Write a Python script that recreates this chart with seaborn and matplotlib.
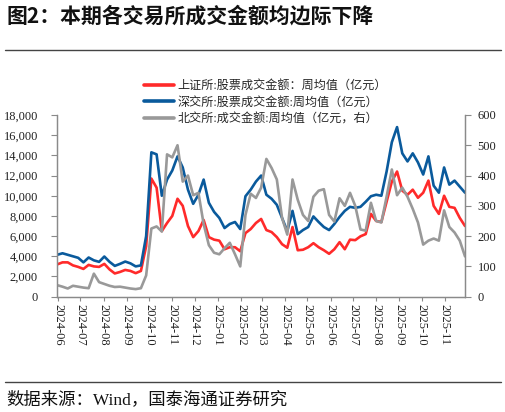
import pandas as pd
import numpy as np
import matplotlib
matplotlib.use("Agg")
import matplotlib.pyplot as plt
import matplotlib.dates as mdates
import seaborn as sns
from matplotlib.lines import Line2D
from matplotlib.ticker import MultipleLocator, FuncFormatter

# 周度数据（周五），2024-05-31 至 2025-11-28
dates = pd.date_range("2024-05-31", "2025-11-28", freq="7D")

# 上证所：股票成交金额 周均值（亿元）
sh_amount = [3200, 3400, 3400, 3100, 2950, 2750, 3150, 3000, 2950, 3250,
             2700, 2300, 2450, 2650, 2550, 2330, 2550, 5000, 11700, 10800,
             6500, 7300, 8000, 9700, 9000, 7000, 5900, 6500, 7600, 5900,
             5650, 5550, 4700, 4900, 4900, 4500, 6300, 6700, 7300, 7700,
             6600, 6400, 5900, 5200, 4850, 6900, 4600, 4650, 4900, 5300,
             4900, 4600, 4250, 4700, 5400, 4700, 5650, 5600, 5980, 6200,
             8200, 7500, 7400, 9400, 11400, 12400, 10500, 10100, 10600, 9800,
             10300, 11500, 9000, 8200, 10000, 8900, 8800, 7800, 7000]

# 深交所：股票成交金额 周均值（亿元）
sz_amount = [4150, 4300, 4150, 4000, 3850, 3400, 3880, 3600, 3450, 3980,
             3450, 3050, 3250, 3480, 3300, 3000, 3100, 6000, 14300, 14100,
             10000, 11600, 12500, 13900, 12800, 10600, 9200, 10100, 11600, 9300,
             8400, 7800, 6800, 7200, 7400, 6700, 9950, 10600, 11400, 12000,
             10100, 9700, 9100, 7800, 6500, 8500, 6200, 6600, 6900, 7950,
             7400, 6900, 6600, 7200, 7900, 8500, 8900, 8800, 8900, 9400,
             9950, 10100, 10000, 12400, 15300, 16800, 14200, 13400, 14200, 13300,
             12100, 13900, 11000, 10300, 12800, 11100, 11500, 10900, 10300]

# 北交所：成交金额 周均值（亿元，右轴）
bj_amount = [38, 33, 27, 36, 33, 30, 28, 76, 48, 42,
             36, 32, 33, 30, 27, 25, 28, 70, 225, 232,
             215, 470, 460, 500, 380, 400, 335, 343, 240, 170,
             145, 140, 160, 178, 140, 100, 270, 340, 326, 360,
             455, 425, 387, 260, 205, 387, 320, 270, 250, 330,
             350, 355, 270, 248, 325, 300, 343, 300, 222, 218,
             310, 250, 245, 330, 420, 335, 360, 330, 290, 245,
             172, 185, 192, 185, 285, 230, 212, 185, 133]

labels = ["上证所:股票成交金额：周均值（亿元）",
          "深交所:股票成交金额:周均值（亿元）",
          "北交所:成交金额:周均值（亿元，右）"]
colors = ["#FF2A2A", "#0A5A9C", "#999999"]

df = pd.DataFrame({"date": dates, "sh": sh_amount, "sz": sz_amount, "bj": bj_amount})

sns.set_theme(style="white")
plt.rcParams["font.family"] = ["Liberation Serif", "Noto Sans CJK SC", "DejaVu Sans"]
plt.rcParams["axes.unicode_minus"] = False

fig = plt.figure(figsize=(5.06, 4.12), dpi=100)
ax = fig.add_axes([0.1132, 0.2799, 0.8058, 0.441])
ax2 = ax.twinx()

sns.lineplot(data=df, x="date", y="sh", ax=ax, color=colors[0], lw=1.9, label=labels[0], legend=False)
sns.lineplot(data=df, x="date", y="sz", ax=ax, color=colors[1], lw=1.9, label=labels[1], legend=False)
sns.lineplot(data=df, x="date", y="bj", ax=ax2, color=colors[2], lw=1.9, label=labels[2], legend=False)

ax.set_xlim(dates[0], dates[-1])
ax.set_ylim(0, 18000)
ax2.set_ylim(0, 600)
ax.yaxis.set_major_locator(MultipleLocator(2000))
ax2.yaxis.set_major_locator(MultipleLocator(100))
ax.yaxis.set_major_formatter(FuncFormatter(lambda v, p: f"{int(v):,}"))
ax.xaxis.set_major_locator(mdates.MonthLocator())
ax.xaxis.set_major_formatter(mdates.DateFormatter("%Y-%m"))

ax.set_xlabel("")
ax.set_ylabel("")
ax2.set_ylabel("")

axis_color = "#8a8a8a"
for a in (ax, ax2):
    a.grid(False)
    a.spines["top"].set_visible(False)
    for s in ("left", "right", "bottom"):
        a.spines[s].set_color(axis_color)
        a.spines[s].set_linewidth(0.9)
ax.tick_params(axis="y", which="major", direction="out", length=4, width=0.8,
               color=axis_color, labelsize=9, labelcolor="#222222", pad=10, left=True)
ax.tick_params(axis="x", which="major", direction="out", length=3, width=0.8,
               color=axis_color, labelsize=9, labelcolor="#222222", pad=2, bottom=True)
ax2.tick_params(axis="y", which="major", direction="out", length=4, width=0.8,
                color=axis_color, labelsize=9, labelcolor="#222222", pad=5, right=True)
for t in ax.get_xticklabels():
    t.set_rotation(270)

# 图例
handles = [Line2D([0], [0], color=c, lw=2.6) for c in colors]
fig.legend(handles, labels, loc="upper left", bbox_to_anchor=(0.284, 0.806),
           frameon=False, fontsize=8.7, handlelength=2.5, handletextpad=0.3,
           labelspacing=0.38, borderpad=0, borderaxespad=0)

# 标题、分隔线与来源
fig.text(0.012, 0.962, "图2：本期各交易所成交金额均边际下降", fontsize=15,
         fontweight="bold", va="center", ha="left", color="#111111",
         family=["Noto Sans CJK SC", "Liberation Serif"])
fig.add_artist(Line2D([0.01, 0.99], [0.8786, 0.8786], transform=fig.transFigure,
                      color="#444444", lw=1.0))
fig.add_artist(Line2D([0.01, 0.99], [0.0728, 0.0728], transform=fig.transFigure,
                      color="#444444", lw=1.0))
fig.text(0.012, 0.029, "数据来源：Wind，国泰海通证券研究", fontsize=12.5,
         va="center", ha="left", color="#111111")

fig.savefig("out.png", dpi=100)
